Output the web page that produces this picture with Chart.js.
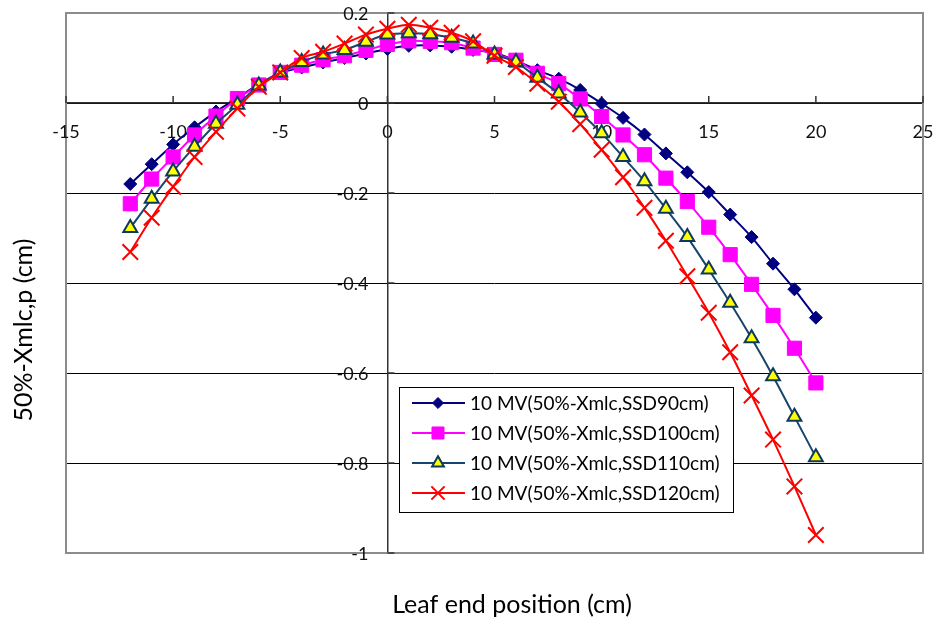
<!DOCTYPE html>
<html>
<head>
<meta charset="utf-8">
<script src="https://cdn.jsdelivr.net/npm/chart.js@4.4.0/dist/chart.umd.min.js"></script>
<style>
  html, body { margin: 0; padding: 0; background: #fff; }
  canvas { display: block; }
</style>
</head>
<body>
<canvas id="grafico" width="936" height="619"></canvas>
<script>
// leaf end position (cm)
const posicoes = [-12, -11, -10, -9, -8, -7, -6, -5, -4, -3, -2, -1, 0, 1, 2, 3, 4, 5, 6, 7, 8, 9, 10, 11, 12, 13, 14, 15, 16, 17, 18, 19, 20];

// 50%-Xmlc,p (cm) per SSD
const ssd90 = [-0.180, -0.136, -0.092, -0.054, -0.019, 0.011, 0.042, 0.067, 0.079, 0.090, 0.100, 0.110, 0.120, 0.127, 0.128, 0.125, 0.118, 0.111, 0.094, 0.073, 0.054, 0.029, -0.001, -0.033, -0.070, -0.112, -0.154, -0.198, -0.248, -0.298, -0.357, -0.414, -0.477];
const ssd100 = [-0.224, -0.169, -0.120, -0.071, -0.029, 0.010, 0.040, 0.068, 0.084, 0.096, 0.105, 0.117, 0.130, 0.138, 0.137, 0.134, 0.122, 0.108, 0.095, 0.066, 0.043, 0.009, -0.030, -0.071, -0.115, -0.167, -0.219, -0.276, -0.337, -0.403, -0.472, -0.545, -0.622];
const ssd110 = [-0.278, -0.213, -0.152, -0.097, -0.046, -0.004, 0.039, 0.068, 0.091, 0.108, 0.118, 0.136, 0.152, 0.155, 0.153, 0.145, 0.132, 0.108, 0.091, 0.056, 0.021, -0.021, -0.067, -0.120, -0.174, -0.235, -0.298, -0.370, -0.444, -0.523, -0.607, -0.697, -0.787];
const ssd120 = [-0.331, -0.255, -0.186, -0.120, -0.064, -0.012, 0.036, 0.068, 0.100, 0.114, 0.132, 0.152, 0.165, 0.174, 0.167, 0.156, 0.137, 0.105, 0.080, 0.043, 0.003, -0.047, -0.104, -0.165, -0.233, -0.306, -0.385, -0.466, -0.554, -0.650, -0.748, -0.852, -0.960];

const nomes = [
    '10 MV(50%-Xmlc,SSD90cm)',
    '10 MV(50%-Xmlc,SSD100cm)',
    '10 MV(50%-Xmlc,SSD110cm)',
    '10 MV(50%-Xmlc,SSD120cm)'
];

const tituloX = 'Leaf end position (cm)';
const tituloY = '50%-Xmlc,p (cm)';

const fonte = 'Lato, "Open Sans", sans-serif';

const pares = (ys) => posicoes.map((x, i) => ({ x: x, y: ys[i] }));
const fmt = (v) => String(+v.toFixed(1));

// border, tick labels, titles and legend drawn by hand (Excel-like look)
const molduraPlugin = {
    id: 'moldura',
    beforeDatasetsDraw(chart) {
        const { ctx, chartArea: a, scales } = chart;
        ctx.save();
        ctx.strokeStyle = '#8c8c8c';
        ctx.lineWidth = 2;
        ctx.strokeRect(a.left, a.top, a.right - a.left, a.bottom - a.top);

        const x0 = scales.x.getPixelForValue(0);
        const y0 = scales.y.getPixelForValue(0);

        // small inside tick marks
        ctx.strokeStyle = '#333';
        ctx.lineWidth = 1.5;
        ctx.beginPath();
        scales.x.ticks.forEach(t => {
            const px = scales.x.getPixelForValue(t.value);
            ctx.moveTo(px, y0 - 7);
            ctx.lineTo(px, y0);
        });
        scales.y.ticks.forEach(t => {
            const py = scales.y.getPixelForValue(t.value);
            ctx.moveTo(x0, py);
            ctx.lineTo(x0 + 7, py);
        });
        ctx.stroke();

        // tick labels
        ctx.fillStyle = '#111';
        ctx.font = '18px ' + fonte;
        ctx.textBaseline = 'middle';
        ctx.textAlign = 'center';
        scales.x.ticks.forEach(t => {
            ctx.fillText(fmt(t.value), scales.x.getPixelForValue(t.value), y0 + 29);
        });
        ctx.textAlign = 'right';
        scales.y.ticks.forEach(t => {
            ctx.fillText(fmt(t.value), x0 - 19, scales.y.getPixelForValue(t.value) + 1);
        });
        ctx.restore();
    },
    afterDraw(chart) {
        const { ctx } = chart;
        ctx.save();
        ctx.fillStyle = '#000';
        ctx.font = '25px ' + fonte;
        ctx.textAlign = 'center';
        ctx.textBaseline = 'middle';
        ctx.fillText(tituloX, 512, 605);

        ctx.translate(24, 330);
        ctx.rotate(-Math.PI / 2);
        ctx.fillText(tituloY, 0, 0);
        ctx.restore();

        // legend
        const caixa = { x: 399, y: 387, w: 334, h: 125 };
        ctx.save();
        ctx.fillStyle = '#fff';
        ctx.fillRect(caixa.x, caixa.y, caixa.w, caixa.h);
        ctx.strokeStyle = '#000';
        ctx.lineWidth = 1;
        ctx.strokeRect(caixa.x + 0.5, caixa.y + 0.5, caixa.w, caixa.h);

        ctx.font = '19px ' + fonte;
        ctx.textAlign = 'left';
        ctx.textBaseline = 'middle';
        chart.data.datasets.forEach((ds, i) => {
            const yy = caixa.y + 16 + i * 30;
            ctx.strokeStyle = ds.borderColor;
            ctx.lineWidth = ds.borderWidth;
            ctx.beginPath();
            ctx.moveTo(caixa.x + 13, yy);
            ctx.lineTo(caixa.x + 66, yy);
            ctx.stroke();

            ctx.fillStyle = ds.pointBackgroundColor;
            ctx.strokeStyle = ds.pointBorderColor;
            ctx.lineWidth = ds.pointBorderWidth;
            Chart.helpers.drawPoint(ctx, {
                pointStyle: ds.pointStyle,
                radius: ds.pointRadius * 0.85,
                rotation: 0,
                borderWidth: ds.pointBorderWidth
            }, caixa.x + 39, yy);

            ctx.fillStyle = '#000';
            ctx.fillText(nomes[i], caixa.x + 71, yy + 1);
        });
        ctx.restore();
    }
};

const ctx = document.getElementById('grafico').getContext('2d');

const grafico = new Chart(ctx, {
    type: 'line',
    data: {
        datasets: [{
            label: nomes[0],
            data: pares(ssd90),
            borderColor: '#000080',
            borderWidth: 2,
            pointStyle: 'rectRot',
            pointRadius: 6.5,
            pointBackgroundColor: '#000080',
            pointBorderColor: '#000080',
            pointBorderWidth: 1,
            tension: 0.3,
            order: 3
        }, {
            label: nomes[1],
            data: pares(ssd100),
            borderColor: '#ff00ff',
            borderWidth: 2,
            pointStyle: 'rect',
            pointRadius: 10,
            pointBackgroundColor: '#ff00ff',
            pointBorderColor: '#ff00ff',
            pointBorderWidth: 1,
            tension: 0.3,
            order: 2
        }, {
            label: nomes[2],
            data: pares(ssd110),
            borderColor: '#17456b',
            borderWidth: 2,
            pointStyle: 'triangle',
            pointRadius: 8,
            pointBackgroundColor: '#ffff00',
            pointBorderColor: '#0d3a5c',
            pointBorderWidth: 2,
            tension: 0.3,
            order: 1
        }, {
            label: nomes[3],
            data: pares(ssd120),
            borderColor: '#ff0000',
            borderWidth: 2,
            pointStyle: 'crossRot',
            pointRadius: 11,
            pointBackgroundColor: '#ff0000',
            pointBorderColor: '#ff0000',
            pointBorderWidth: 2,
            tension: 0.3,
            order: 0
        }]
    },
    options: {
        responsive: false,
        animation: false,
        layout: {
            padding: { left: 66, right: 10, top: 11, bottom: 66 }
        },
        scales: {
            x: {
                type: 'linear',
                min: -15,
                max: 25,
                position: { y: 0 },
                grid: { display: false, drawTicks: false },
                border: { display: true, color: '#333', width: 1.5 },
                ticks: { stepSize: 5, display: false, padding: 0 }
            },
            y: {
                type: 'linear',
                min: -1,
                max: 0.2,
                position: { x: 0 },
                grid: { color: '#000', lineWidth: 1, drawTicks: false },
                border: { display: true, color: '#333', width: 1.5 },
                ticks: { stepSize: 0.2, display: false, padding: 0 }
            }
        },
        plugins: {
            legend: { display: false },
            tooltip: { enabled: false }
        }
    },
    plugins: [molduraPlugin]
});
</script>
</body>
</html>
